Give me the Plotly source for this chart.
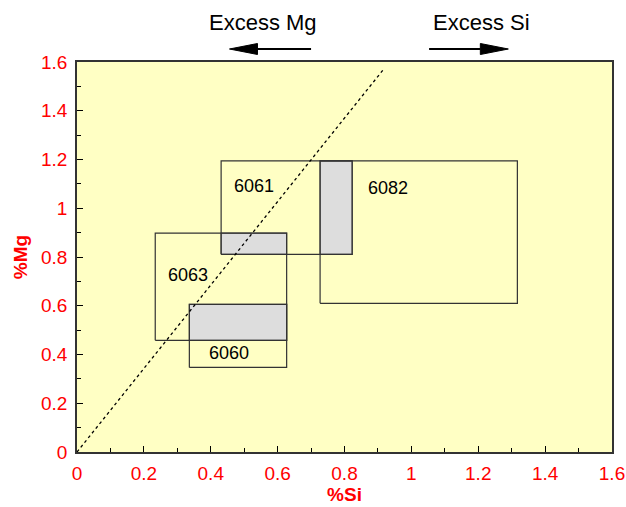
import plotly.graph_objects as go

# Alloy composition windows (%Si min/max, %Mg min/max)
alloys = ["6061", "6082", "6063", "6060"]
si_min = [0.431, 0.727, 0.234, 0.336]
si_max = [0.823, 1.317, 0.627, 0.627]
mg_min = [0.811, 0.610, 0.458, 0.347]
mg_max = [1.194, 1.194, 0.898, 0.606]

# label positions
label_si = [0.53, 0.93, 0.332, 0.455]
label_mg = [1.09, 1.083, 0.726, 0.406]

# overlapping pairs (shaded)
overlaps = [("6061", "6063"), ("6061", "6082"), ("6063", "6060")]

# Mg2Si stoichiometric line
line_si = [0.0, 0.918]
line_mg = [0.0, 1.572]

# "Excess" arrows: head x, tail x (in %Si)
arrow_text = ["Excess Mg", "Excess Si"]
arrow_head = [0.456, 1.290]
arrow_tail = [0.700, 1.053]
arrow_text_x = [0.555, 1.211]

tick_vals = [0, 0.2, 0.4, 0.6, 0.8, 1.0, 1.2, 1.4, 1.6]
tick_text = ["0", "0.2", "0.4", "0.6", "0.8", "1", "1.2", "1.4", "1.6"]

FONT = "Liberation Sans, Arial, sans-serif"
PLOT_W = 626 - 77 - 14
PLOT_H = 507 - 62 - 55
fig = go.Figure()

idx = {a: i for i, a in enumerate(alloys)}
for a, b in overlaps:
    i, j = idx[a], idx[b]
    x0 = max(si_min[i], si_min[j]); x1 = min(si_max[i], si_max[j])
    y0 = max(mg_min[i], mg_min[j]); y1 = min(mg_max[i], mg_max[j])
    fig.add_trace(go.Scatter(x=[x0, x1, x1, x0, x0], y=[y0, y0, y1, y1, y0],
                             mode="lines", fill="toself", fillcolor="#dddddd",
                             line=dict(color="#555555", width=1.2),
                             hoverinfo="skip", showlegend=False))

for i, a in enumerate(alloys):
    fig.add_trace(go.Scatter(x=[si_min[i], si_max[i], si_max[i], si_min[i], si_min[i]],
                             y=[mg_min[i], mg_min[i], mg_max[i], mg_max[i], mg_min[i]],
                             mode="lines", line=dict(color="#333333", width=1.2),
                             hoverinfo="skip", showlegend=False))

fig.add_trace(go.Scatter(x=line_si, y=line_mg, mode="lines",
                         line=dict(color="black", width=1.3, dash="dot"),
                         hoverinfo="skip", showlegend=False))

for i, a in enumerate(alloys):
    fig.add_annotation(x=label_si[i], y=label_mg[i], text=a, showarrow=False,
                       font=dict(family=FONT, size=18, color="black"))

# arrows above the plot (head: ~28 px long, ~11 px tall)
arrow_y = 1 + 13 / PLOT_H
head_len = 28 * 1.6 / PLOT_W
head_half = 5.5 / PLOT_H
for k in range(2):
    h, t = arrow_head[k], arrow_tail[k]
    d = 1 if t > h else -1
    base = h + d * head_len
    fig.add_shape(type="line", xref="x", yref="paper", x0=t, x1=base,
                  y0=arrow_y, y1=arrow_y, line=dict(color="black", width=2))
    fig.add_shape(type="path", xref="x", yref="paper",
                  path=f"M {h} {arrow_y} L {base} {arrow_y + head_half} "
                       f"L {base} {arrow_y - head_half} Z",
                  fillcolor="black", line=dict(color="black", width=1))
    fig.add_annotation(x=arrow_text_x[k], y=1.10, xref="x", yref="paper",
                       yanchor="middle", text=arrow_text[k], showarrow=False,
                       font=dict(family=FONT, size=22, color="black"))

axis_common = dict(
    tickvals=tick_vals, ticktext=tick_text, range=[0, 1.6],
    ticks="inside", ticklen=6, tickcolor="black", tickwidth=1,
    showline=True, linecolor="#333333", linewidth=1.5, mirror=True,
    showgrid=False, zeroline=False, automargin=False,
    tickfont=dict(family=FONT, size=19, color="red"),
    minor=dict(ticks="inside", ticklen=4, dtick=0.1, tickcolor="black", showgrid=False),
)

fig.update_layout(
    width=626, height=507,
    margin=dict(l=77, r=14, t=62, b=55),
    paper_bgcolor="white", plot_bgcolor="#ffffc4",
    xaxis=dict(**axis_common,
               title=dict(text="<b>%Si</b>", standoff=2,
                          font=dict(family=FONT, size=19, color="red"))),
    yaxis=dict(**axis_common,
               title=dict(text="<b>%Mg</b>", standoff=8,
                          font=dict(family=FONT, size=19, color="red"))),
)
fig.update_xaxes(ticklabelstandoff=3)
fig.update_yaxes(ticklabelstandoff=4)

fig.write_html("out.html")
